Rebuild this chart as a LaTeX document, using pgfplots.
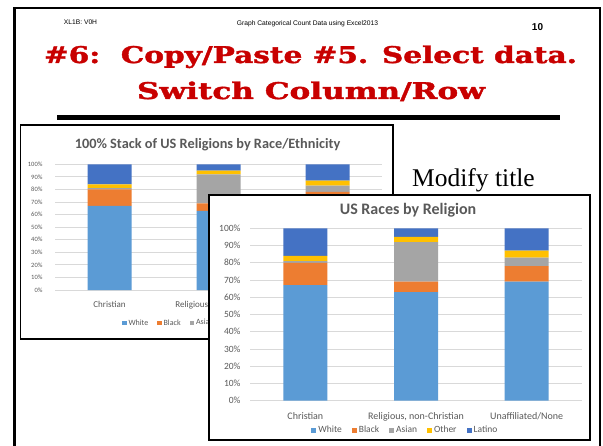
\documentclass[border=0pt]{standalone}
\usepackage{fontspec}
\setmainfont{Carlito}
\newfontfamily\arialf{Liberation Sans}
\newfontfamily\timesf{Liberation Serif}
\newfontface\slabheavy{DejaVu Serif Bold}[FakeBold=1.5]
\usepackage{pgfplots}
\usepackage{pgfplotstable}
\pgfplotsset{compat=1.18}
\definecolor{cWhite}{HTML}{5B9BD5}
\definecolor{cBlack}{HTML}{ED7D31}
\definecolor{cAsian}{HTML}{A5A5A5}
\definecolor{cOther}{HTML}{FFC000}
\definecolor{cLatino}{HTML}{4472C4}
\definecolor{gridc}{HTML}{D9D9D9}
\definecolor{textc}{HTML}{595959}
\definecolor{titlered}{RGB}{200,0,0}
\pgfplotstableread{
x White Black Asian Other Latino
0 67 13 1 3 16
1 63 6 23 3 5
2 69 9 5 4 13
}\racedata
\pgfplotsset{racechart/.style={
  scale only axis, ybar stacked,
  xmin=-0.5, xmax=2.5, ymin=0, ymax=100,
  xtick={0,1,2},
  xticklabels={Christian,{Religious, non-Christian},Unaffiliated/None},
  ytick={0,10,...,100},
  yticklabel={\pgfmathprintnumber{\tick}\%},
  /pgf/number format/assume math mode=true,
  ymajorgrids, grid style={draw=gridc, line width=0.9pt},
  axis line style={draw=none},
  major tick length=0pt,
  tick label style={text=textc},
  legend columns=-1,
  legend style={draw=none, fill=none, text=textc, inner sep=0pt},
  clip=false,
}}
\begin{document}
\begin{tikzpicture}
\clip (0pt,0pt) rectangle (603pt,445pt);
\begin{scope}[x=1pt,y=1pt]
\fill[white] (0,0) rectangle (603,445);
% slide frame
\draw[line width=2.6pt] (14.5,-5) -- (14.5,437) -- (600,437) -- (600,-5);
% header
\node[anchor=base, font=\arialf\fontsize{6.7}{8}\selectfont] at (80.5,420) {XL1B: V0H};
\node[anchor=base, font=\arialf\fontsize{6.7}{8}\selectfont] at (307.5,419.5) {Graph Categorical Count Data using Excel2013};
\node[anchor=base, font=\arialf\bfseries\fontsize{10}{12}\selectfont] at (537.5,414) {10};
\node[anchor=base, text=titlered, font=\slabheavy\fontsize{23}{26}\selectfont] at (310.5,382) {\resizebox{533pt}{\height}{\#6:\ \ Copy/Paste \#5. Select data.}};
\node[anchor=base, text=titlered, font=\slabheavy\fontsize{23}{26}\selectfont] at (311,346) {\resizebox{348pt}{\height}{Switch Column/Row}};
% black bar
\fill[black] (57,325) rectangle (560,330);
% back chart frame
\filldraw[fill=white, draw=black, line width=1.6pt] (20.5,106) rectangle (393,320);
\node[font=\bfseries\fontsize{14.3}{17}\selectfont, text=textc] at (207.5,300) {100\% Stack of US Religions by Race/Ethnicity};
\end{scope}
\begin{axis}[racechart, at={(55pt,155pt)}, anchor=south west,
  width=327pt, height=125.7pt, bar width=44pt,
  yticklabel style={font=\fontsize{6.5}{8}\selectfont, xshift=-9pt},
  xticklabel style={font=\fontsize{9}{10}\selectfont, yshift=-8pt},
  legend style={font=\fontsize{8}{9}\selectfont, at={(axis description cs:0.455,-0.2625)}, anchor=center,
    /tikz/every even column/.append style={column sep=7pt}},
  legend image code/.code={\fill[#1] (0pt,-2.2pt) rectangle (4.4pt,2.2pt);},
]
\addplot[fill=cWhite, draw=none] table[x=x, y=White]{\racedata};
\addplot[fill=cBlack, draw=none] table[x=x, y=Black]{\racedata};
\addplot[fill=cAsian, draw=none] table[x=x, y=Asian]{\racedata};
\addplot[fill=cOther, draw=none] table[x=x, y=Other]{\racedata};
\addplot[fill=cLatino, draw=none] table[x=x, y=Latino]{\racedata};
\legend{White,Black,Asian,Other,Latino}
\end{axis}
\begin{scope}[x=1pt,y=1pt]
% Modify title
\node[anchor=base west, font=\timesf\fontsize{25.5}{28}\selectfont, inner sep=0pt] at (412,258) {Modify title};
% front chart frame
\filldraw[fill=white, draw=black, line width=2pt] (209,5) rectangle (590,250);
\node[font=\bfseries\fontsize{16}{19}\selectfont, text=textc] at (408,234.3) {US Races by Religion};
\end{scope}
\begin{axis}[racechart, at={(250pt,44.3pt)}, anchor=south west,
  width=332pt, height=172.4pt, bar width=44pt,
  yticklabel style={font=\fontsize{9.5}{11}\selectfont, xshift=-6pt},
  xticklabel style={font=\fontsize{10}{12}\selectfont, yshift=-8pt},
  legend style={font=\fontsize{9.5}{11}\selectfont, at={(axis description cs:0.468,-0.17)}, anchor=center,
    /tikz/every even column/.append style={column sep=8pt}},
  legend image code/.code={\fill[#1] (0pt,-2.5pt) rectangle (5pt,2.5pt);},
]
\addplot[fill=cWhite, draw=none] table[x=x, y=White]{\racedata};
\addplot[fill=cBlack, draw=none] table[x=x, y=Black]{\racedata};
\addplot[fill=cAsian, draw=none] table[x=x, y=Asian]{\racedata};
\addplot[fill=cOther, draw=none] table[x=x, y=Other]{\racedata};
\addplot[fill=cLatino, draw=none] table[x=x, y=Latino]{\racedata};
\legend{White,Black,Asian,Other,Latino}
\end{axis}
\end{tikzpicture}
\end{document}
